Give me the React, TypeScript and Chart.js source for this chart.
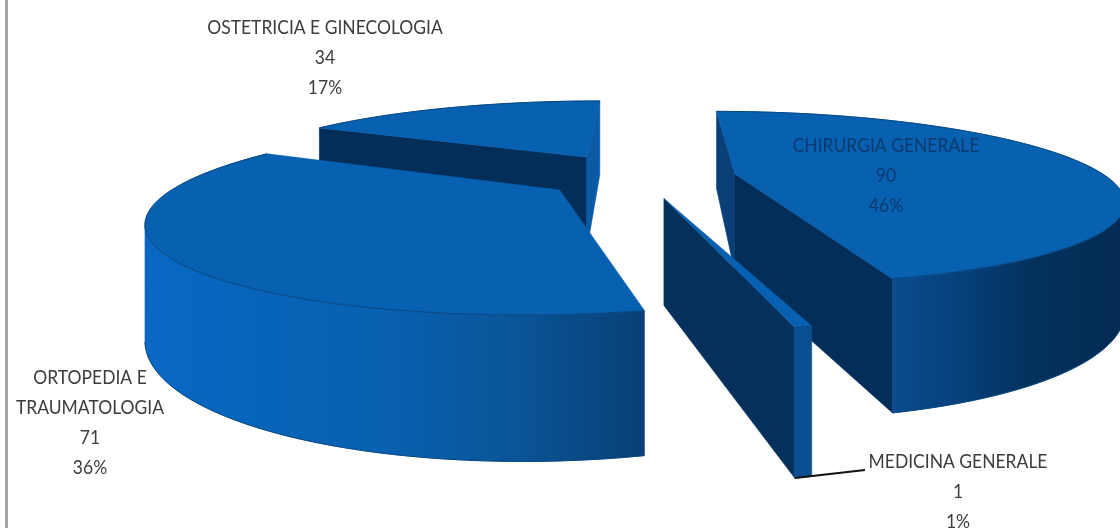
import React, { useEffect, useRef } from "react";
import { Chart, registerables } from "chart.js";

Chart.register(...registerables);

const categories = ["CHIRURGIA GENERALE", "MEDICINA GENERALE", "ORTOPEDIA E TRAUMATOLOGIA", "OSTETRICIA E GINECOLOGIA"];
const values = [90, 1, 71, 34];
const percents = ["46%", "1%", "36%", "17%"];
const labelLines = [
  ["CHIRURGIA GENERALE"],
  ["MEDICINA GENERALE"],
  ["ORTOPEDIA E", "TRAUMATOLOGIA"],
  ["OSTETRICIA E GINECOLOGIA"],
];

// Perspective camera used to turn the flat pie into the 3D view
const camera = { vx: 650, vy: 190, ax: 388, by: 88.75, persp: 0.29, height: 104, ox: -0.027, oy: -0.159 };
const explode = [0.26, 0.26, 0.26, 0.3];

const topColor = "#0760b0";
const edgeColor = "#07457f";
const sliceStyles = [
  { wall: [[0, "#0a4c8c"], [0.43, "#0a4c8c"], [0.6, "#06407a"], [0.75, "#04335f"], [1, "#032a52"]], start: "#0a3f78", end: "#042e5a" },
  { wall: [[0, "#0a4f92"], [1, "#0a4f92"]], start: "#06305c", end: "#06305c" },
  { wall: [[0, "#0868c4"], [0.5, "#0860ae"], [0.75, "#0a5496"], [1, "#083f75"]], start: "#06305c", end: "#06305c" },
  { wall: [[0, "#0a5aa6"], [1, "#0a5aa6"]], start: "#042e5a", end: "#0a5aa6" },
];
const paintOrder = [3, 0, 1, 2];
const labelAnchors = [
  { x: 886, y: 146, color: "#0c3a70" },
  { x: 958, y: 462, color: "#3c3c3c" },
  { x: 90, y: 378, color: "#3c3c3c" },
  { x: 325, y: 28, color: "#3c3c3c" },
];
const labelFont = '19px Lato, "Open Sans", sans-serif';
const labelSqueeze = 0.92;
const lineStep = 29.8;

function project(X: number, Y: number, Z: number): [number, number] {
  const w = 1 - camera.persp * Y;
  return [camera.vx + (camera.ax * X) / w, camera.vy + (camera.by * Y) / w + (camera.height * Z) / w];
}

function facesCamera(nx: number, ny: number, X: number, Y: number) {
  return nx * -X + ny * (1 / camera.persp - Y) > 0;
}

function fillPoly(ctx: CanvasRenderingContext2D, pts: [number, number][], fill: any) {
  ctx.beginPath();
  pts.forEach((p, i) => (i ? ctx.lineTo(p[0], p[1]) : ctx.moveTo(p[0], p[1])));
  ctx.closePath();
  ctx.fillStyle = fill;
  ctx.strokeStyle = fill;
  ctx.lineWidth = 0.6;
  ctx.fill();
  ctx.stroke();
}

function strokeLine(ctx: CanvasRenderingContext2D, pts: [number, number][], color: string) {
  ctx.beginPath();
  pts.forEach((p, k) => (k ? ctx.lineTo(p[0], p[1]) : ctx.moveTo(p[0], p[1])));
  ctx.strokeStyle = color;
  ctx.lineWidth = 1;
  ctx.stroke();
}

const pie3d = {
  id: "pie3d",
  beforeDatasetsDraw(chart: any) {
    const ctx: CanvasRenderingContext2D = chart.ctx;
    const arcs = chart.getDatasetMeta(0).data;
    paintOrder.forEach((i) => {
      const { startAngle: s, endAngle: e } = arcs[i].getProps(["startAngle", "endAngle"]);
      const style = sliceStyles[i];
      const mid = (s + e) / 2;
      const cx = camera.ox + explode[i] * Math.cos(mid);
      const cy = camera.oy + explode[i] * Math.sin(mid);
      const n = Math.max(2, Math.ceil(((e - s) * 180) / Math.PI));
      const rim: [number, number, number][] = [];
      for (let k = 0; k <= n; k++) {
        const a = s + ((e - s) * k) / n;
        rim.push([cx + Math.cos(a), cy + Math.sin(a), a]);
      }
      const xs = rim.map((r) => project(r[0], r[1], 0)[0]);
      const minX = Math.min(...xs);
      const maxX = Math.max(...xs);
      const grad = ctx.createLinearGradient(minX, 0, maxX, 0);
      style.wall.forEach(([o, c]: any) => grad.addColorStop(o, c));

      // radial cut faces
      const sP = rim[0];
      const eP = rim[n];
      if (facesCamera(Math.cos(s - Math.PI / 2), Math.sin(s - Math.PI / 2), cx, cy)) {
        fillPoly(ctx, [project(cx, cy, 0), project(sP[0], sP[1], 0), project(sP[0], sP[1], 1), project(cx, cy, 1)], style.start);
      }
      if (facesCamera(Math.cos(e + Math.PI / 2), Math.sin(e + Math.PI / 2), cx, cy)) {
        fillPoly(ctx, [project(cx, cy, 0), project(eP[0], eP[1], 0), project(eP[0], eP[1], 1), project(cx, cy, 1)], style.end);
      }
      // outer wall, one polygon over the rim points that face the viewer
      const seen = rim.filter((r) => facesCamera(Math.cos(r[2]), Math.sin(r[2]), r[0], r[1]));
      if (seen.length > 1 || i === 1) {
        const band = seen.length > 1 ? seen : rim;
        const upper = band.map((r) => project(r[0], r[1], 0));
        const lower = band.map((r) => project(r[0], r[1], 1));
        fillPoly(ctx, [...upper, ...lower.slice().reverse()], grad);
        strokeLine(ctx, lower, edgeColor);
      }
      // top face
      const rimTop = rim.map((r) => project(r[0], r[1], 0));
      fillPoly(ctx, [project(cx, cy, 0), ...rimTop], topColor);
      strokeLine(ctx, rimTop, edgeColor);
    });
    return false;
  },
  afterDraw(chart: any) {
    const ctx: CanvasRenderingContext2D = chart.ctx;
    const arcs = chart.getDatasetMeta(0).data;
    // frame of the picture
    ctx.fillStyle = "#a6a6a6";
    ctx.fillRect(5, 0, 3, 528);
    // leader line of the smallest slice
    const { startAngle: s, endAngle: e } = arcs[1].getProps(["startAngle", "endAngle"]);
    const mid = (s + e) / 2;
    const tip = project(
      camera.ox + explode[1] * Math.cos(mid) + Math.cos(e),
      camera.oy + explode[1] * Math.sin(mid) + Math.sin(e),
      1
    );
    ctx.beginPath();
    ctx.moveTo(tip[0], tip[1]);
    ctx.lineTo(865, 470);
    ctx.strokeStyle = "#111111";
    ctx.lineWidth = 2;
    ctx.stroke();
    // labels
    ctx.font = labelFont;
    ctx.textAlign = "center";
    ctx.textBaseline = "middle";
    categories.forEach((_, i) => {
      const lines = [...labelLines[i], String(values[i]), percents[i]];
      ctx.fillStyle = labelAnchors[i].color;
      lines.forEach((t, k) => {
        ctx.save();
        ctx.translate(labelAnchors[i].x, labelAnchors[i].y + k * lineStep);
        ctx.scale(labelSqueeze, 1);
        ctx.fillText(t, 0, 0);
        ctx.restore();
      });
    });
  },
};

export default function App() {
  const ref = useRef<HTMLCanvasElement>(null);
  useEffect(() => {
    const chart = new Chart(ref.current!, {
      type: "pie",
      data: {
        labels: categories,
        datasets: [{ data: values, backgroundColor: topColor, borderWidth: 0 }],
      },
      options: {
        animation: false,
        responsive: false,
        rotation: 0,
        plugins: { legend: { display: false }, tooltip: { enabled: false }, title: { display: false } },
      },
      plugins: [pie3d],
    } as any);
    return () => chart.destroy();
  }, []);
  return (
    <canvas
      ref={ref}
      width={1120}
      height={528}
      style={{ position: "fixed", left: 0, top: 0, width: 1120, height: 528, background: "#ffffff" }}
    />
  );
}
